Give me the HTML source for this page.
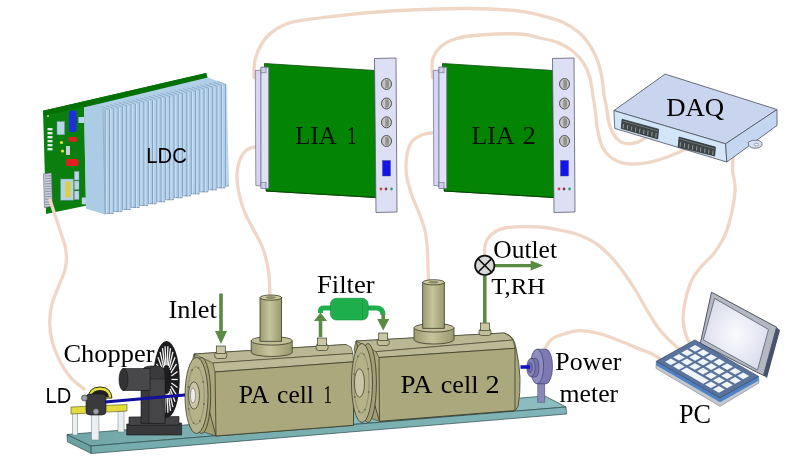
<!DOCTYPE html>
<html><head><meta charset="utf-8"><style>html,body{margin:0;padding:0;background:#fff;overflow:hidden}svg{display:block;filter:blur(0.35px)}</style></head>
<body><svg width="800" height="460" viewBox="0 0 800 460"><defs><linearGradient id="cyl" x1="0" x2="1" y1="0" y2="0"><stop offset="0" stop-color="#9e9c72"/><stop offset="0.45" stop-color="#c6c49c"/><stop offset="1" stop-color="#9a986e"/></linearGradient><radialGradient id="scr" cx="0.5" cy="0.5" r="0.6"><stop offset="0" stop-color="#fbfbff"/><stop offset="1" stop-color="#d6d9ea"/></radialGradient><linearGradient id="plateTop" gradientUnits="userSpaceOnUse" x1="67" y1="0" x2="566" y2="0"><stop offset="0" stop-color="#70a6a7"/><stop offset="0.55" stop-color="#88b9bc"/><stop offset="1" stop-color="#8cbcbf"/></linearGradient><linearGradient id="plateFront" gradientUnits="userSpaceOnUse" x1="91" y1="0" x2="566" y2="0"><stop offset="0" stop-color="#74abac"/><stop offset="1" stop-color="#80b4b8"/></linearGradient></defs><rect width="800" height="460" fill="#fff"/><path d="M254.0,77.5 C254.2,74.6 253.6,65.8 255.0,60.0 C256.4,54.2 259.2,47.5 262.5,42.5 C265.8,37.5 269.6,33.5 275.0,30.0 C280.4,26.5 283.3,24.0 295.0,21.5 C306.7,19.0 329.2,16.8 345.0,15.0 C360.8,13.2 370.0,12.1 390.0,11.0 C410.0,9.9 444.2,8.6 465.0,8.5 C485.8,8.4 502.5,9.4 515.0,10.5 C527.5,11.6 532.2,13.3 540.0,15.2 C547.8,17.1 555.2,18.8 561.7,21.7 C568.2,24.6 574.3,28.6 579.0,32.6 C583.7,36.6 586.9,41.0 590.0,45.7 C593.1,50.4 595.6,55.5 597.6,60.9 C599.6,66.3 600.9,72.6 602.0,78.3 C603.1,84.0 603.3,90.4 604.0,95.0 C604.7,99.6 605.4,101.0 606.2,105.7 C607.1,110.4 607.8,118.4 609.1,123.3 C610.4,128.2 612.0,131.9 614.0,135.0 C616.0,138.1 618.4,140.4 620.9,141.9 C623.4,143.4 625.8,143.8 628.7,143.8 C631.6,143.8 635.7,143.0 638.5,141.9 C641.3,140.8 644.4,138.2 645.6,137.4" fill="none" stroke="#f0d6c5" stroke-width="3.3" stroke-linecap="round" stroke-linejoin="round"/><path d="M432.5,77.5 C432.5,74.6 431.2,65.0 432.5,60.0 C433.8,55.0 436.2,51.0 440.0,47.5 C443.8,44.0 448.3,41.1 455.0,39.0 C461.7,36.9 469.2,35.8 480.0,35.0 C490.8,34.2 510.0,33.5 520.0,34.0 C530.0,34.5 533.8,36.6 540.0,38.0 C546.2,39.4 552.0,40.2 557.4,42.4 C562.8,44.6 568.2,47.6 572.6,51.0 C577.0,54.4 580.6,58.5 583.5,63.0 C586.4,67.5 588.4,72.5 590.0,78.3 C591.6,84.1 592.4,92.4 593.3,98.0 C594.2,103.6 594.7,106.8 595.4,112.0 C596.1,117.2 596.2,123.3 597.4,129.1 C598.5,134.9 600.0,142.1 602.3,146.8 C604.6,151.5 607.4,154.7 611.1,157.5 C614.9,160.3 619.6,162.4 624.8,163.4 C630.0,164.4 636.5,164.1 642.4,163.4 C648.3,162.8 654.5,161.1 660.0,159.5 C665.5,157.9 671.4,155.4 675.7,153.6 C680.0,151.8 684.3,149.5 686.0,148.7" fill="none" stroke="#f0d6c5" stroke-width="3.3" stroke-linecap="round" stroke-linejoin="round"/><path d="M255.4,146.6 C253.9,147.2 248.8,148.1 246.2,150.3 C243.6,152.5 241.4,155.6 239.9,159.6 C238.4,163.6 237.2,168.8 237.0,174.3 C236.8,179.8 237.6,186.6 238.8,192.8 C240.0,199.0 241.8,205.1 244.3,211.3 C246.8,217.5 250.5,223.6 253.6,229.8 C256.7,236.0 260.3,241.5 262.8,248.3 C265.3,255.1 267.2,262.4 268.4,270.4 C269.6,278.3 269.7,291.7 270.0,296.0" fill="none" stroke="#f0d6c5" stroke-width="3.3" stroke-linecap="round" stroke-linejoin="round"/><path d="M431.7,132.9 C429.9,133.3 424.0,133.9 420.6,135.5 C417.2,137.1 413.7,138.6 411.4,142.2 C409.1,145.8 407.4,151.5 406.6,157.0 C405.8,162.5 405.8,169.2 406.6,175.4 C407.4,181.6 409.4,187.7 411.4,193.9 C413.4,200.1 416.5,206.2 418.8,212.4 C421.1,218.6 423.7,224.8 425.1,230.9 C426.5,237.1 426.8,243.2 427.3,249.3 C427.8,255.5 427.8,262.4 428.0,267.8 C428.2,273.2 428.7,279.6 428.8,282.0" fill="none" stroke="#f0d6c5" stroke-width="3.3" stroke-linecap="round" stroke-linejoin="round"/><path d="M484.5,255.0 C484.7,253.1 484.4,246.8 485.5,243.5 C486.6,240.2 487.8,237.6 491.0,235.0 C494.2,232.4 496.8,229.3 505.0,228.0 C513.2,226.7 530.8,226.6 540.0,227.0 C549.2,227.4 553.6,228.9 560.0,230.2 C566.4,231.5 572.2,232.5 578.3,234.8 C584.4,237.1 590.9,240.1 596.5,243.9 C602.1,247.7 607.1,252.8 611.7,257.6 C616.3,262.4 619.9,267.2 623.9,272.8 C627.9,278.4 631.9,284.4 636.0,291.0 C640.1,297.6 644.2,305.8 648.3,312.4 C652.4,319.0 655.8,325.0 660.4,330.6 C665.0,336.2 671.3,342.3 675.6,345.9 C679.9,349.5 684.3,351.0 686.0,352.0" fill="none" stroke="#f0d6c5" stroke-width="3.3" stroke-linecap="round" stroke-linejoin="round"/><path d="M733.6,154.0 C733.4,156.7 732.3,163.7 732.5,170.0 C732.7,176.3 735.9,182.0 735.0,192.0 C734.1,202.0 730.3,220.0 727.0,230.0 C723.7,240.0 719.5,245.7 715.0,252.0 C710.5,258.3 704.0,263.0 700.0,268.0 C696.0,273.0 693.4,276.1 690.9,282.0 C688.4,287.9 686.1,296.7 684.8,303.3 C683.5,309.9 682.7,315.4 683.2,321.5 C683.7,327.6 685.8,335.4 687.8,339.8 C689.8,344.2 693.8,346.6 695.0,348.0" fill="none" stroke="#f0d6c5" stroke-width="3.3" stroke-linecap="round" stroke-linejoin="round"/><path d="M545.0,348.0 C546.2,346.5 548.8,341.3 552.0,339.0 C555.2,336.7 559.6,335.4 564.0,334.0 C568.4,332.6 572.4,330.7 578.3,330.6 C584.2,330.6 592.5,331.9 599.6,333.7 C606.7,335.5 614.3,338.8 620.9,341.3 C627.5,343.8 634.0,346.9 639.1,348.9 C644.2,350.9 647.5,351.6 651.3,353.5 C655.1,355.4 660.2,358.9 662.0,360.0" fill="none" stroke="#f0d6c5" stroke-width="3.3" stroke-linecap="round" stroke-linejoin="round"/><polygon points="43.0,110.8 206.2,73.0 207.8,78.0 210.0,180.0 46.0,214.0" fill="#0a7e0e" stroke="none" stroke-width="1" /><polygon points="43.0,110.8 206.2,73.0 206.5,78.0 44.0,116.0" fill="#037003" stroke="none" stroke-width="1" /><rect x="69" y="110.5" width="7.6" height="21.5" rx="2.5" fill="#1f2fd8"/><rect x="57" y="121.5" width="7.6" height="13.3" fill="#b8d4e8" stroke="#6a8aa0" stroke-width="0.5"/><rect x="68.4" y="137" width="8.8" height="4.7" rx="2" fill="#e02020"/><rect x="66" y="159" width="12.4" height="7" rx="1.5" fill="#e02020"/><circle cx="61.5" cy="142.5" r="1.6" fill="#e8e040"/><circle cx="62.5" cy="151" r="1.6" fill="#e8e040"/><rect x="66" y="146" width="4" height="9" fill="#c8d0d0"/><rect x="47.5" y="128.0" width="5" height="2.4" fill="#e0e8e8"/><rect x="47.5" y="132.0" width="5" height="2.4" fill="#e0e8e8"/><rect x="47.5" y="136.0" width="5" height="2.4" fill="#e0e8e8"/><rect x="47.5" y="140.0" width="5" height="2.4" fill="#e0e8e8"/><rect x="47.5" y="144.0" width="5" height="2.4" fill="#e0e8e8"/><rect x="47.5" y="148.0" width="5" height="2.4" fill="#e0e8e8"/><circle cx="48" cy="116" r="1" fill="#c0d0c0"/><rect x="60.6" y="179" width="13" height="21.2" fill="#b4d2e2" stroke="#6a8a9a" stroke-width="0.5"/><rect x="65.2" y="181.5" width="5.6" height="16" fill="#d8d048"/><rect x="74.3" y="171.5" width="4.7" height="8.5" fill="#bcd4e4" stroke="#7a9aaa" stroke-width="0.4"/><rect x="74.3" y="181" width="4.7" height="8.5" fill="#bcd4e4" stroke="#7a9aaa" stroke-width="0.4"/><rect x="74.3" y="191" width="4.7" height="8.5" fill="#bcd4e4" stroke="#7a9aaa" stroke-width="0.4"/><rect x="81.8" y="197.5" width="4.2" height="6.8" fill="#bcd4e4"/><rect x="78.5" y="117" width="5.5" height="6" fill="#b8d4e8"/><polygon points="43.5,174.0 51.5,172.8 52.4,206.0 44.5,207.7" fill="#c4ccd8" stroke="#606070" stroke-width="0.6" /><line x1="45" y1="176.0" x2="51" y2="175.7" stroke="#7a8290" stroke-width="0.7"/><line x1="45" y1="178.6" x2="51" y2="178.3" stroke="#7a8290" stroke-width="0.7"/><line x1="45" y1="181.2" x2="51" y2="180.9" stroke="#7a8290" stroke-width="0.7"/><line x1="45" y1="183.8" x2="51" y2="183.5" stroke="#7a8290" stroke-width="0.7"/><line x1="45" y1="186.4" x2="51" y2="186.1" stroke="#7a8290" stroke-width="0.7"/><line x1="45" y1="189.0" x2="51" y2="188.7" stroke="#7a8290" stroke-width="0.7"/><line x1="45" y1="191.6" x2="51" y2="191.3" stroke="#7a8290" stroke-width="0.7"/><line x1="45" y1="194.2" x2="51" y2="193.9" stroke="#7a8290" stroke-width="0.7"/><line x1="45" y1="196.8" x2="51" y2="196.5" stroke="#7a8290" stroke-width="0.7"/><line x1="45" y1="199.4" x2="51" y2="199.1" stroke="#7a8290" stroke-width="0.7"/><line x1="45" y1="202.0" x2="51" y2="201.7" stroke="#7a8290" stroke-width="0.7"/><line x1="45" y1="204.6" x2="51" y2="204.3" stroke="#7a8290" stroke-width="0.7"/><polygon points="84.0,107.5 207.8,77.5 226.4,84.3 229.0,185.5 229.0,186.4 225.4,186.4 225.4,188.3 216.8,188.3 216.8,190.3 208.2,190.3 208.2,192.3 199.6,192.3 199.6,194.3 191.0,194.3 191.0,196.3 182.4,196.3 182.4,198.2 173.8,198.2 173.8,200.2 165.2,200.2 165.2,202.2 156.6,202.2 156.6,204.2 148.0,204.2 148.0,206.1 139.4,206.1 139.4,208.1 130.8,208.1 130.8,210.1 122.2,210.1 122.2,212.1 113.6,212.1 113.6,214.0 105.0,214.0 86.0,208.5" fill="#b2cfe9" stroke="none" stroke-width="1" /><line x1="105.0" y1="213.4" x2="113.6" y2="213.4" stroke="#8a9cb0" stroke-width="1"/><line x1="113.6" y1="211.5" x2="122.2" y2="211.5" stroke="#8a9cb0" stroke-width="1"/><line x1="122.2" y1="209.5" x2="130.8" y2="209.5" stroke="#8a9cb0" stroke-width="1"/><line x1="130.8" y1="207.5" x2="139.4" y2="207.5" stroke="#8a9cb0" stroke-width="1"/><line x1="139.4" y1="205.5" x2="148.0" y2="205.5" stroke="#8a9cb0" stroke-width="1"/><line x1="148.0" y1="203.6" x2="156.6" y2="203.6" stroke="#8a9cb0" stroke-width="1"/><line x1="156.6" y1="201.6" x2="165.2" y2="201.6" stroke="#8a9cb0" stroke-width="1"/><line x1="165.2" y1="199.6" x2="173.8" y2="199.6" stroke="#8a9cb0" stroke-width="1"/><line x1="173.8" y1="197.6" x2="182.4" y2="197.6" stroke="#8a9cb0" stroke-width="1"/><line x1="182.4" y1="195.7" x2="191.0" y2="195.7" stroke="#8a9cb0" stroke-width="1"/><line x1="191.0" y1="193.7" x2="199.6" y2="193.7" stroke="#8a9cb0" stroke-width="1"/><line x1="199.6" y1="191.7" x2="208.2" y2="191.7" stroke="#8a9cb0" stroke-width="1"/><line x1="208.2" y1="189.7" x2="216.8" y2="189.7" stroke="#8a9cb0" stroke-width="1"/><line x1="216.8" y1="187.7" x2="225.4" y2="187.7" stroke="#8a9cb0" stroke-width="1"/><line x1="225.4" y1="185.8" x2="229.0" y2="185.8" stroke="#8a9cb0" stroke-width="1"/><line x1="105.2" y1="110.5" x2="105.2" y2="214.0" stroke="#7d9cbc" stroke-width="0.9"/><line x1="106.5" y1="110.5" x2="106.5" y2="213.7" stroke="#d2e4f5" stroke-width="0.8"/><line x1="97.2" y1="107.3" x2="105.2" y2="110.5" stroke="#7f9cbc" stroke-width="0.7"/><line x1="109.5" y1="109.6" x2="109.5" y2="214.0" stroke="#7d9cbc" stroke-width="0.9"/><line x1="110.8" y1="109.6" x2="110.8" y2="213.7" stroke="#d2e4f5" stroke-width="0.8"/><line x1="101.5" y1="106.4" x2="109.5" y2="109.6" stroke="#7f9cbc" stroke-width="0.7"/><line x1="113.8" y1="108.7" x2="113.8" y2="212.1" stroke="#7d9cbc" stroke-width="0.9"/><line x1="115.1" y1="108.7" x2="115.1" y2="211.8" stroke="#d2e4f5" stroke-width="0.8"/><line x1="105.8" y1="105.5" x2="113.8" y2="108.7" stroke="#7f9cbc" stroke-width="0.7"/><line x1="118.1" y1="107.7" x2="118.1" y2="212.1" stroke="#7d9cbc" stroke-width="0.9"/><line x1="119.4" y1="107.7" x2="119.4" y2="211.8" stroke="#d2e4f5" stroke-width="0.8"/><line x1="110.1" y1="104.5" x2="118.1" y2="107.7" stroke="#7f9cbc" stroke-width="0.7"/><line x1="122.4" y1="106.8" x2="122.4" y2="210.1" stroke="#7d9cbc" stroke-width="0.9"/><line x1="123.7" y1="106.8" x2="123.7" y2="209.8" stroke="#d2e4f5" stroke-width="0.8"/><line x1="114.4" y1="103.6" x2="122.4" y2="106.8" stroke="#7f9cbc" stroke-width="0.7"/><line x1="126.7" y1="105.9" x2="126.7" y2="210.1" stroke="#7d9cbc" stroke-width="0.9"/><line x1="128.0" y1="105.9" x2="128.0" y2="209.8" stroke="#d2e4f5" stroke-width="0.8"/><line x1="118.7" y1="102.7" x2="126.7" y2="105.9" stroke="#7f9cbc" stroke-width="0.7"/><line x1="131.0" y1="104.9" x2="131.0" y2="208.1" stroke="#7d9cbc" stroke-width="0.9"/><line x1="132.3" y1="104.9" x2="132.3" y2="207.8" stroke="#d2e4f5" stroke-width="0.8"/><line x1="123.0" y1="101.7" x2="131.0" y2="104.9" stroke="#7f9cbc" stroke-width="0.7"/><line x1="135.3" y1="104.0" x2="135.3" y2="208.1" stroke="#7d9cbc" stroke-width="0.9"/><line x1="136.6" y1="104.0" x2="136.6" y2="207.8" stroke="#d2e4f5" stroke-width="0.8"/><line x1="127.3" y1="100.8" x2="135.3" y2="104.0" stroke="#7f9cbc" stroke-width="0.7"/><line x1="139.6" y1="103.1" x2="139.6" y2="206.1" stroke="#7d9cbc" stroke-width="0.9"/><line x1="140.9" y1="103.1" x2="140.9" y2="205.8" stroke="#d2e4f5" stroke-width="0.8"/><line x1="131.6" y1="99.9" x2="139.6" y2="103.1" stroke="#7f9cbc" stroke-width="0.7"/><line x1="143.9" y1="102.2" x2="143.9" y2="206.1" stroke="#7d9cbc" stroke-width="0.9"/><line x1="145.2" y1="102.2" x2="145.2" y2="205.8" stroke="#d2e4f5" stroke-width="0.8"/><line x1="135.9" y1="99.0" x2="143.9" y2="102.2" stroke="#7f9cbc" stroke-width="0.7"/><line x1="148.2" y1="101.2" x2="148.2" y2="204.2" stroke="#7d9cbc" stroke-width="0.9"/><line x1="149.5" y1="101.2" x2="149.5" y2="203.9" stroke="#d2e4f5" stroke-width="0.8"/><line x1="140.2" y1="98.0" x2="148.2" y2="101.2" stroke="#7f9cbc" stroke-width="0.7"/><line x1="152.5" y1="100.3" x2="152.5" y2="204.2" stroke="#7d9cbc" stroke-width="0.9"/><line x1="153.8" y1="100.3" x2="153.8" y2="203.9" stroke="#d2e4f5" stroke-width="0.8"/><line x1="144.5" y1="97.1" x2="152.5" y2="100.3" stroke="#7f9cbc" stroke-width="0.7"/><line x1="156.8" y1="99.4" x2="156.8" y2="202.2" stroke="#7d9cbc" stroke-width="0.9"/><line x1="158.1" y1="99.4" x2="158.1" y2="201.9" stroke="#d2e4f5" stroke-width="0.8"/><line x1="148.8" y1="96.2" x2="156.8" y2="99.4" stroke="#7f9cbc" stroke-width="0.7"/><line x1="161.1" y1="98.4" x2="161.1" y2="202.2" stroke="#7d9cbc" stroke-width="0.9"/><line x1="162.4" y1="98.4" x2="162.4" y2="201.9" stroke="#d2e4f5" stroke-width="0.8"/><line x1="153.1" y1="95.2" x2="161.1" y2="98.4" stroke="#7f9cbc" stroke-width="0.7"/><line x1="165.4" y1="97.5" x2="165.4" y2="200.2" stroke="#7d9cbc" stroke-width="0.9"/><line x1="166.7" y1="97.5" x2="166.7" y2="199.9" stroke="#d2e4f5" stroke-width="0.8"/><line x1="157.4" y1="94.3" x2="165.4" y2="97.5" stroke="#7f9cbc" stroke-width="0.7"/><line x1="169.7" y1="96.6" x2="169.7" y2="200.2" stroke="#7d9cbc" stroke-width="0.9"/><line x1="171.0" y1="96.6" x2="171.0" y2="199.9" stroke="#d2e4f5" stroke-width="0.8"/><line x1="161.7" y1="93.4" x2="169.7" y2="96.6" stroke="#7f9cbc" stroke-width="0.7"/><line x1="174.0" y1="95.6" x2="174.0" y2="198.2" stroke="#7d9cbc" stroke-width="0.9"/><line x1="175.3" y1="95.6" x2="175.3" y2="197.9" stroke="#d2e4f5" stroke-width="0.8"/><line x1="166.0" y1="92.4" x2="174.0" y2="95.6" stroke="#7f9cbc" stroke-width="0.7"/><line x1="178.3" y1="94.7" x2="178.3" y2="198.2" stroke="#7d9cbc" stroke-width="0.9"/><line x1="179.6" y1="94.7" x2="179.6" y2="197.9" stroke="#d2e4f5" stroke-width="0.8"/><line x1="170.3" y1="91.5" x2="178.3" y2="94.7" stroke="#7f9cbc" stroke-width="0.7"/><line x1="182.6" y1="93.8" x2="182.6" y2="196.3" stroke="#7d9cbc" stroke-width="0.9"/><line x1="183.9" y1="93.8" x2="183.9" y2="196.0" stroke="#d2e4f5" stroke-width="0.8"/><line x1="174.6" y1="90.6" x2="182.6" y2="93.8" stroke="#7f9cbc" stroke-width="0.7"/><line x1="186.9" y1="92.8" x2="186.9" y2="196.3" stroke="#7d9cbc" stroke-width="0.9"/><line x1="188.2" y1="92.8" x2="188.2" y2="196.0" stroke="#d2e4f5" stroke-width="0.8"/><line x1="178.9" y1="89.6" x2="186.9" y2="92.8" stroke="#7f9cbc" stroke-width="0.7"/><line x1="191.2" y1="91.9" x2="191.2" y2="194.3" stroke="#7d9cbc" stroke-width="0.9"/><line x1="192.5" y1="91.9" x2="192.5" y2="194.0" stroke="#d2e4f5" stroke-width="0.8"/><line x1="183.2" y1="88.7" x2="191.2" y2="91.9" stroke="#7f9cbc" stroke-width="0.7"/><line x1="195.5" y1="91.0" x2="195.5" y2="194.3" stroke="#7d9cbc" stroke-width="0.9"/><line x1="196.8" y1="91.0" x2="196.8" y2="194.0" stroke="#d2e4f5" stroke-width="0.8"/><line x1="187.5" y1="87.8" x2="195.5" y2="91.0" stroke="#7f9cbc" stroke-width="0.7"/><line x1="199.8" y1="90.1" x2="199.8" y2="192.3" stroke="#7d9cbc" stroke-width="0.9"/><line x1="201.1" y1="90.1" x2="201.1" y2="192.0" stroke="#d2e4f5" stroke-width="0.8"/><line x1="191.8" y1="86.9" x2="199.8" y2="90.1" stroke="#7f9cbc" stroke-width="0.7"/><line x1="204.1" y1="89.1" x2="204.1" y2="192.3" stroke="#7d9cbc" stroke-width="0.9"/><line x1="205.4" y1="89.1" x2="205.4" y2="192.0" stroke="#d2e4f5" stroke-width="0.8"/><line x1="196.1" y1="85.9" x2="204.1" y2="89.1" stroke="#7f9cbc" stroke-width="0.7"/><line x1="208.4" y1="88.2" x2="208.4" y2="190.3" stroke="#7d9cbc" stroke-width="0.9"/><line x1="209.7" y1="88.2" x2="209.7" y2="190.0" stroke="#d2e4f5" stroke-width="0.8"/><line x1="200.4" y1="85.0" x2="208.4" y2="88.2" stroke="#7f9cbc" stroke-width="0.7"/><line x1="212.7" y1="87.3" x2="212.7" y2="190.3" stroke="#7d9cbc" stroke-width="0.9"/><line x1="214.0" y1="87.3" x2="214.0" y2="190.0" stroke="#d2e4f5" stroke-width="0.8"/><line x1="204.7" y1="84.1" x2="212.7" y2="87.3" stroke="#7f9cbc" stroke-width="0.7"/><line x1="217.0" y1="86.3" x2="217.0" y2="188.3" stroke="#7d9cbc" stroke-width="0.9"/><line x1="218.3" y1="86.3" x2="218.3" y2="188.0" stroke="#d2e4f5" stroke-width="0.8"/><line x1="209.0" y1="83.1" x2="217.0" y2="86.3" stroke="#7f9cbc" stroke-width="0.7"/><line x1="221.3" y1="85.4" x2="221.3" y2="188.3" stroke="#7d9cbc" stroke-width="0.9"/><line x1="222.6" y1="85.4" x2="222.6" y2="188.0" stroke="#d2e4f5" stroke-width="0.8"/><line x1="213.3" y1="82.2" x2="221.3" y2="85.4" stroke="#7f9cbc" stroke-width="0.7"/><line x1="225.6" y1="84.5" x2="225.6" y2="186.4" stroke="#7d9cbc" stroke-width="0.9"/><line x1="226.9" y1="84.5" x2="226.9" y2="186.1" stroke="#d2e4f5" stroke-width="0.8"/><line x1="217.6" y1="81.3" x2="225.6" y2="84.5" stroke="#7f9cbc" stroke-width="0.7"/><polygon points="84.0,107.5 100.0,104.0 103.0,111.0 105.0,214.5 86.0,208.5" fill="#abcce4" stroke="none" stroke-width="1" /><line x1="103" y1="111" x2="105" y2="214.5" stroke="#8ea8c4" stroke-width="0.8"/><path d="M50.0,200.0 C50.7,202.1 52.5,207.6 54.2,212.8 C55.9,218.0 58.3,224.9 60.2,231.0 C62.1,237.1 64.8,243.3 65.7,249.4 C66.6,255.5 66.7,261.5 65.5,267.6 C64.3,273.7 61.0,279.8 58.8,285.9 C56.5,292.0 53.5,297.9 52.0,304.0 C50.5,310.1 49.7,316.3 49.7,322.4 C49.7,328.5 50.5,334.6 52.0,340.7 C53.5,346.8 55.8,352.9 58.8,359.0 C61.8,365.1 66.0,372.0 70.2,377.0 C74.4,382.0 81.7,387.0 84.0,389.0" fill="none" stroke="#f0d6c5" stroke-width="3.3" stroke-linecap="round" stroke-linejoin="round"/><polygon points="264.5,63.5 375.0,70.5 376.0,197.5 266.0,191.0" fill="#038503" stroke="#0b4a0b" stroke-width="0.8" /><line x1="266" y1="191" x2="376" y2="197.5" stroke="#024a02" stroke-width="1"/><polygon points="255.3,70.5 261.0,70.0 261.0,186.0 255.8,185.5" fill="#d6d6f2" stroke="#6a6a90" stroke-width="0.7" /><polygon points="261.0,67.2 268.7,67.2 268.7,188.5 261.0,188.0" fill="#e2e2f6" stroke="#6a6a90" stroke-width="0.7" /><rect x="261" y="67.2" width="5" height="5.6" fill="#cfcfe4" stroke="#6a6a90" stroke-width="0.6"/><rect x="261" y="182.5" width="5" height="6" fill="#cfcfe4" stroke="#6a6a90" stroke-width="0.6"/><polygon points="374.5,58.5 396.0,58.0 397.0,212.0 376.0,212.5" fill="#dde0f4" stroke="#5a5a70" stroke-width="0.8" /><ellipse cx="386.5" cy="84" rx="5" ry="5.5" fill="#c4c4c4" stroke="#444" stroke-width="0.9"/><path d="M386.5,79.2 A5,5.5 0 0 1 386.5,88.8 Z" fill="#9a9a9a"/><line x1="386" y1="80" x2="386" y2="88" stroke="#555" stroke-width="0.6"/><line x1="388" y1="80" x2="388" y2="88" stroke="#666" stroke-width="0.5"/><ellipse cx="386.5" cy="103.5" rx="5" ry="5.5" fill="#c4c4c4" stroke="#444" stroke-width="0.9"/><path d="M386.5,98.7 A5,5.5 0 0 1 386.5,108.3 Z" fill="#9a9a9a"/><line x1="386" y1="99.5" x2="386" y2="107.5" stroke="#555" stroke-width="0.6"/><line x1="388" y1="99.5" x2="388" y2="107.5" stroke="#666" stroke-width="0.5"/><ellipse cx="386.5" cy="122.3" rx="5" ry="5.5" fill="#c4c4c4" stroke="#444" stroke-width="0.9"/><path d="M386.5,117.5 A5,5.5 0 0 1 386.5,127.1 Z" fill="#9a9a9a"/><line x1="386" y1="118.3" x2="386" y2="126.3" stroke="#555" stroke-width="0.6"/><line x1="388" y1="118.3" x2="388" y2="126.3" stroke="#666" stroke-width="0.5"/><ellipse cx="386.5" cy="141" rx="5" ry="5.5" fill="#c4c4c4" stroke="#444" stroke-width="0.9"/><path d="M386.5,136.2 A5,5.5 0 0 1 386.5,145.8 Z" fill="#9a9a9a"/><line x1="386" y1="137" x2="386" y2="145" stroke="#555" stroke-width="0.6"/><line x1="388" y1="137" x2="388" y2="145" stroke="#666" stroke-width="0.5"/><rect x="382.5" y="160.5" width="8" height="15.5" fill="#1414e8" stroke="#404080" stroke-width="0.4"/><circle cx="381" cy="189" r="1.4" fill="#c84848"/><circle cx="386" cy="189" r="1.4" fill="#883848"/><circle cx="391.5" cy="189" r="1.4" fill="#38a070"/><polygon points="442.5,63.5 553.0,70.5 554.0,197.5 444.0,191.0" fill="#038503" stroke="#0b4a0b" stroke-width="0.8" /><line x1="444" y1="191" x2="554" y2="197.5" stroke="#024a02" stroke-width="1"/><polygon points="433.3,70.5 439.0,70.0 439.0,186.0 433.8,185.5" fill="#d6d6f2" stroke="#6a6a90" stroke-width="0.7" /><polygon points="439.0,67.2 446.7,67.2 446.7,188.5 439.0,188.0" fill="#e2e2f6" stroke="#6a6a90" stroke-width="0.7" /><rect x="439" y="67.2" width="5" height="5.6" fill="#cfcfe4" stroke="#6a6a90" stroke-width="0.6"/><rect x="439" y="182.5" width="5" height="6" fill="#cfcfe4" stroke="#6a6a90" stroke-width="0.6"/><polygon points="552.5,58.5 574.0,58.0 575.0,212.0 554.0,212.5" fill="#dde0f4" stroke="#5a5a70" stroke-width="0.8" /><ellipse cx="564.5" cy="84" rx="5" ry="5.5" fill="#c4c4c4" stroke="#444" stroke-width="0.9"/><path d="M564.5,79.2 A5,5.5 0 0 1 564.5,88.8 Z" fill="#9a9a9a"/><line x1="564" y1="80" x2="564" y2="88" stroke="#555" stroke-width="0.6"/><line x1="566" y1="80" x2="566" y2="88" stroke="#666" stroke-width="0.5"/><ellipse cx="564.5" cy="103.5" rx="5" ry="5.5" fill="#c4c4c4" stroke="#444" stroke-width="0.9"/><path d="M564.5,98.7 A5,5.5 0 0 1 564.5,108.3 Z" fill="#9a9a9a"/><line x1="564" y1="99.5" x2="564" y2="107.5" stroke="#555" stroke-width="0.6"/><line x1="566" y1="99.5" x2="566" y2="107.5" stroke="#666" stroke-width="0.5"/><ellipse cx="564.5" cy="122.3" rx="5" ry="5.5" fill="#c4c4c4" stroke="#444" stroke-width="0.9"/><path d="M564.5,117.5 A5,5.5 0 0 1 564.5,127.1 Z" fill="#9a9a9a"/><line x1="564" y1="118.3" x2="564" y2="126.3" stroke="#555" stroke-width="0.6"/><line x1="566" y1="118.3" x2="566" y2="126.3" stroke="#666" stroke-width="0.5"/><ellipse cx="564.5" cy="141" rx="5" ry="5.5" fill="#c4c4c4" stroke="#444" stroke-width="0.9"/><path d="M564.5,136.2 A5,5.5 0 0 1 564.5,145.8 Z" fill="#9a9a9a"/><line x1="564" y1="137" x2="564" y2="145" stroke="#555" stroke-width="0.6"/><line x1="566" y1="137" x2="566" y2="145" stroke="#666" stroke-width="0.5"/><rect x="560.5" y="160.5" width="8" height="15.5" fill="#1414e8" stroke="#404080" stroke-width="0.4"/><circle cx="559" cy="189" r="1.4" fill="#c84848"/><circle cx="564" cy="189" r="1.4" fill="#883848"/><circle cx="569.5" cy="189" r="1.4" fill="#38a070"/><polygon points="613.9,110.6 665.1,74.1 777.0,109.5 725.6,143.8" fill="#c9d4ee" stroke="#4a4f5c" stroke-width="0.8" /><polygon points="613.9,110.6 725.6,143.8 726.8,162.0 614.7,128.4" fill="#d3e5f9" stroke="#4a4f5c" stroke-width="0.8" /><polygon points="725.6,143.8 777.0,109.5 777.0,125.5 726.8,162.0" fill="#c4d6f0" stroke="#4a4f5c" stroke-width="0.8" /><polygon points="622.0,119.2 658.6,129.2 657.8,139.0 621.2,128.4" fill="#3d4546" stroke="#1e2222" stroke-width="0.6" /><line x1="623.7" y1="123.9" x2="623.2" y2="128.2" stroke="#8a9494" stroke-width="1.1"/><line x1="627.7" y1="125.1" x2="627.3" y2="129.4" stroke="#8a9494" stroke-width="1.1"/><line x1="631.8" y1="126.2" x2="631.4" y2="130.5" stroke="#8a9494" stroke-width="1.1"/><line x1="635.9" y1="127.3" x2="635.4" y2="131.7" stroke="#8a9494" stroke-width="1.1"/><line x1="639.9" y1="128.5" x2="639.5" y2="132.9" stroke="#8a9494" stroke-width="1.1"/><line x1="644.0" y1="129.6" x2="643.6" y2="134.1" stroke="#8a9494" stroke-width="1.1"/><line x1="648.1" y1="130.8" x2="647.6" y2="135.3" stroke="#8a9494" stroke-width="1.1"/><line x1="652.1" y1="131.9" x2="651.7" y2="136.4" stroke="#8a9494" stroke-width="1.1"/><line x1="656.2" y1="133.0" x2="655.8" y2="137.6" stroke="#8a9494" stroke-width="1.1"/><line x1="622.5" y1="121.0" x2="658.1" y2="131.0" stroke="#6a7474" stroke-width="1"/><polygon points="679.0,137.0 715.5,147.1 714.7,156.0 678.1,147.1" fill="#3d4546" stroke="#1e2222" stroke-width="0.6" /><line x1="680.6" y1="142.1" x2="680.1" y2="146.8" stroke="#8a9494" stroke-width="1.1"/><line x1="684.7" y1="143.1" x2="684.2" y2="147.8" stroke="#8a9494" stroke-width="1.1"/><line x1="688.7" y1="144.2" x2="688.3" y2="148.8" stroke="#8a9494" stroke-width="1.1"/><line x1="692.8" y1="145.3" x2="692.3" y2="149.8" stroke="#8a9494" stroke-width="1.1"/><line x1="696.9" y1="146.3" x2="696.4" y2="150.8" stroke="#8a9494" stroke-width="1.1"/><line x1="700.9" y1="147.4" x2="700.5" y2="151.7" stroke="#8a9494" stroke-width="1.1"/><line x1="705.0" y1="148.4" x2="704.5" y2="152.7" stroke="#8a9494" stroke-width="1.1"/><line x1="709.0" y1="149.5" x2="708.6" y2="153.7" stroke="#8a9494" stroke-width="1.1"/><line x1="713.1" y1="150.6" x2="712.7" y2="154.7" stroke="#8a9494" stroke-width="1.1"/><line x1="679.5" y1="138.8" x2="715.0" y2="148.9" stroke="#6a7474" stroke-width="1"/><path d="M748.4,142 Q752,139.5 758,140.3 Q763,141.5 762,145.5 Q760,148.5 754,148.3 Q749,147.5 748.4,144 Z" fill="#d6e2f4" stroke="#4a4f5c" stroke-width="0.7"/><ellipse cx="756.4" cy="144.6" rx="2.3" ry="1.3" fill="#fff" stroke="#4a4f5c" stroke-width="0.5"/><polygon points="67.0,434.5 91.0,446.0 91.3,453.5 67.4,441.7" fill="#6aa2a3" stroke="#2c4a4a" stroke-width="0.7" /><polygon points="67.0,434.5 545.0,396.0 566.0,407.0 91.0,446.0" fill="url(#plateTop)" stroke="#2c4a4a" stroke-width="0.7" /><polygon points="91.0,446.0 566.0,407.0 566.5,414.0 91.3,453.5" fill="url(#plateFront)" stroke="#2c4a4a" stroke-width="0.7" /><rect x="72.5" y="411" width="5" height="24" fill="#eceff1" stroke="#707878" stroke-width="0.5"/><rect x="91.45" y="411" width="7.5" height="29" fill="#eceff1" stroke="#707878" stroke-width="0.5"/><rect x="118.0" y="411" width="6" height="21" fill="#eceff1" stroke="#707878" stroke-width="0.5"/><polygon points="71.0,407.0 127.0,404.5 127.0,411.0 71.0,414.0" fill="#e4dc3c" stroke="#505020" stroke-width="0.6" /><path d="M88,398 Q89,387 100,387 Q111,387 112,398 Z" fill="#e8e040" stroke="#303010" stroke-width="1"/><path d="M91,397 Q92,390 100,390 Q108,390 109,397 Z" fill="#202020"/><rect x="86" y="394" width="20" height="21" rx="4" fill="#3a3a3c" stroke="#1a1a1a" stroke-width="0.6"/><circle cx="84.5" cy="398" r="3" fill="#9aa0a4" stroke="#333" stroke-width="0.6"/><circle cx="96" cy="411.5" r="3" fill="#9aa0a4" stroke="#333" stroke-width="0.6"/><polygon points="126.7,424.0 181.6,423.0 181.6,435.0 126.7,435.0" fill="#38383a" stroke="#111" stroke-width="0.6" /><polygon points="129.0,417.0 179.0,416.5 179.0,425.0 129.0,425.5" fill="#444446" stroke="#111" stroke-width="0.6" /><ellipse cx="166.5" cy="379.5" rx="13.2" ry="38.5" fill="#1c1c1e"/><line x1="171.5" y1="379.5" x2="177.8" y2="379.5" stroke="#f2f2f2" stroke-width="1.3"/><line x1="171.4" y1="383.0" x2="177.5" y2="387.5" stroke="#f2f2f2" stroke-width="1.3"/><line x1="170.9" y1="386.2" x2="176.5" y2="395.1" stroke="#f2f2f2" stroke-width="1.3"/><line x1="170.2" y1="389.1" x2="175.0" y2="401.7" stroke="#f2f2f2" stroke-width="1.3"/><line x1="169.3" y1="391.4" x2="172.9" y2="407.1" stroke="#f2f2f2" stroke-width="1.3"/><line x1="168.3" y1="393.1" x2="170.5" y2="410.8" stroke="#f2f2f2" stroke-width="1.3"/><line x1="167.1" y1="393.9" x2="167.9" y2="412.8" stroke="#f2f2f2" stroke-width="1.3"/><line x1="165.9" y1="393.9" x2="165.1" y2="412.8" stroke="#f2f2f2" stroke-width="1.3"/><line x1="164.7" y1="393.1" x2="162.5" y2="410.8" stroke="#f2f2f2" stroke-width="1.3"/><line x1="163.7" y1="391.4" x2="160.1" y2="407.1" stroke="#f2f2f2" stroke-width="1.3"/><line x1="162.8" y1="389.1" x2="158.0" y2="401.7" stroke="#f2f2f2" stroke-width="1.3"/><line x1="162.1" y1="386.2" x2="156.5" y2="395.1" stroke="#f2f2f2" stroke-width="1.3"/><line x1="161.6" y1="383.0" x2="155.5" y2="387.5" stroke="#f2f2f2" stroke-width="1.3"/><line x1="161.5" y1="379.5" x2="155.2" y2="379.5" stroke="#f2f2f2" stroke-width="1.3"/><line x1="161.6" y1="376.0" x2="155.5" y2="371.5" stroke="#f2f2f2" stroke-width="1.3"/><line x1="162.1" y1="372.8" x2="156.5" y2="363.9" stroke="#f2f2f2" stroke-width="1.3"/><line x1="162.8" y1="369.9" x2="158.0" y2="357.3" stroke="#f2f2f2" stroke-width="1.3"/><line x1="163.7" y1="367.6" x2="160.1" y2="351.9" stroke="#f2f2f2" stroke-width="1.3"/><line x1="164.7" y1="365.9" x2="162.5" y2="348.2" stroke="#f2f2f2" stroke-width="1.3"/><line x1="165.9" y1="365.1" x2="165.1" y2="346.2" stroke="#f2f2f2" stroke-width="1.3"/><line x1="167.1" y1="365.1" x2="167.9" y2="346.2" stroke="#f2f2f2" stroke-width="1.3"/><line x1="168.3" y1="365.9" x2="170.5" y2="348.2" stroke="#f2f2f2" stroke-width="1.3"/><line x1="169.3" y1="367.6" x2="172.9" y2="351.9" stroke="#f2f2f2" stroke-width="1.3"/><line x1="170.2" y1="369.9" x2="175.0" y2="357.3" stroke="#f2f2f2" stroke-width="1.3"/><line x1="170.9" y1="372.8" x2="176.5" y2="363.9" stroke="#f2f2f2" stroke-width="1.3"/><line x1="171.4" y1="376.0" x2="177.5" y2="371.5" stroke="#f2f2f2" stroke-width="1.3"/><path d="M141,373 Q142,366 151,366 L157,366 Q165,366.5 165,374 L165,423.4 L141,423.4 Z" fill="#3a3a3c" stroke="#141414" stroke-width="0.6"/><path d="M149,379 L165,379 L165,423.4 L149,423.4 Z" fill="#454547" stroke="#1a1a1a" stroke-width="0.5"/><rect x="123" y="368.5" width="27" height="22" fill="#48484a" stroke="#141414" stroke-width="0.6"/><ellipse cx="123.5" cy="379.5" rx="4.5" ry="11" fill="#333335" stroke="#141414" stroke-width="0.6"/><line x1="105" y1="402" x2="196" y2="394" stroke="#1010a0" stroke-width="3"/><polygon points="194.0,354.0 213.0,363.0 215.0,372.0 216.0,436.0 204.0,432.0 192.0,362.0" fill="#a09e72" stroke="#3a3a28" stroke-width="0.6" /><polygon points="194.0,354.0 346.0,344.5 350.0,348.5 353.5,361.8 353.5,425.3 216.0,436.0" fill="#aaa87c" stroke="#3a3a28" stroke-width="0.8" /><polygon points="194.0,354.0 346.0,344.5 351.0,347.0 353.0,353.4 213.0,363.0" fill="#b9b794" stroke="#3a3a28" stroke-width="0.6" /><polygon points="213.0,363.0 353.0,353.4 353.5,361.8 215.0,372.0" fill="#bbb996" stroke="#3a3a28" stroke-width="0.6" /><polygon points="215.0,372.0 353.5,361.8 353.5,425.3 216.0,436.0" fill="#aaa87c" stroke="#3a3a28" stroke-width="0.8" /><ellipse cx="201.5" cy="395.5" rx="9.200000000000001" ry="38" fill="#a2a075" stroke="#3a3a28" stroke-width="0.8"/><ellipse cx="196.5" cy="395.5" rx="11.5" ry="38" fill="#b4b289" stroke="#3a3a28" stroke-width="0.8"/><ellipse cx="196.0" cy="395.5" rx="8.28" ry="28.88" fill="none" stroke="#6a6850" stroke-width="0.5"/><circle cx="203.9" cy="404.0" r="0.9" fill="#6a6850"/><circle cx="199.9" cy="421.0" r="0.9" fill="#6a6850"/><circle cx="193.6" cy="423.1" r="0.9" fill="#6a6850"/><circle cx="188.7" cy="409.0" r="0.9" fill="#6a6850"/><circle cx="188.1" cy="387.0" r="0.9" fill="#6a6850"/><circle cx="192.1" cy="370.0" r="0.9" fill="#6a6850"/><circle cx="198.4" cy="367.9" r="0.9" fill="#6a6850"/><circle cx="203.3" cy="382.0" r="0.9" fill="#6a6850"/><ellipse cx="194.0" cy="395.5" rx="5.52" ry="13.68" fill="#c8c6a4" stroke="#3a3a28" stroke-width="0.7"/><ellipse cx="193" cy="395.5" rx="2.6" ry="7.5" fill="#ecece4" stroke="#555" stroke-width="0.5"/><polygon points="356.0,341.0 376.0,351.7 379.0,357.5 379.5,421.3 367.5,417.3 354.0,349.0" fill="#a09e72" stroke="#3a3a28" stroke-width="0.6" /><path d="M356,341 L504,333 Q514,335 516,348 Q523,379.4 518,406.5 L515,410.5 L379.5,421.3 Z" fill="#aaa87c" stroke="#3a3a28" stroke-width="0.8"/><polygon points="356.0,341.0 504.0,333.0 509.0,335.5 513.0,340.0 376.0,351.7" fill="#b9b794" stroke="#3a3a28" stroke-width="0.6" /><polygon points="376.0,351.7 513.0,340.0 515.0,348.3 379.0,357.5" fill="#bbb996" stroke="#3a3a28" stroke-width="0.6" /><polygon points="379.0,357.5 515.0,348.3 515.0,410.5 379.5,421.3" fill="#aaa87c" stroke="#3a3a28" stroke-width="0.8" /><ellipse cx="368" cy="383" rx="8.4" ry="39.5" fill="#a2a075" stroke="#3a3a28" stroke-width="0.8"/><ellipse cx="362" cy="383" rx="10.5" ry="39.5" fill="#b4b289" stroke="#3a3a28" stroke-width="0.8"/><ellipse cx="361.5" cy="383" rx="7.56" ry="30.02" fill="none" stroke="#6a6850" stroke-width="0.5"/><circle cx="368.7" cy="391.9" r="0.9" fill="#6a6850"/><circle cx="365.0" cy="409.6" r="0.9" fill="#6a6850"/><circle cx="359.3" cy="411.7" r="0.9" fill="#6a6850"/><circle cx="354.8" cy="397.0" r="0.9" fill="#6a6850"/><circle cx="354.3" cy="374.1" r="0.9" fill="#6a6850"/><circle cx="358.0" cy="356.4" r="0.9" fill="#6a6850"/><circle cx="363.7" cy="354.3" r="0.9" fill="#6a6850"/><circle cx="368.2" cy="369.0" r="0.9" fill="#6a6850"/><ellipse cx="359.5" cy="383" rx="5.04" ry="14.219999999999999" fill="#c8c6a4" stroke="#3a3a28" stroke-width="0.7"/><path d="M251.2,340.8 L251.2,352.2 A20.5,4.3 0 0 0 292.2,352.2 L292.2,340.8 Z" fill="url(#cyl)" stroke="#3a3a28" stroke-width="0.8"/><ellipse cx="271.7" cy="340.8" rx="20.5" ry="4.3" fill="#c2bf96" stroke="#3a3a28" stroke-width="0.8"/><rect x="260.0" y="297.6" width="21.6" height="43.69999999999999" fill="url(#cyl)" stroke="#3a3a28" stroke-width="0.8"/><ellipse cx="270.8" cy="297.6" rx="10.8" ry="2.6" fill="#cac8a2" stroke="#3a3a28" stroke-width="0.8"/><ellipse cx="270.8" cy="297.6" rx="5" ry="1.3" fill="#8a8866"/><path d="M414,327.8 L414,339.7 A20,4.3 0 0 0 454,339.7 L454,327.8 Z" fill="url(#cyl)" stroke="#3a3a28" stroke-width="0.8"/><ellipse cx="434" cy="327.8" rx="20" ry="4.3" fill="#c2bf96" stroke="#3a3a28" stroke-width="0.8"/><rect x="422.7" y="282.3" width="21.6" height="46" fill="url(#cyl)" stroke="#3a3a28" stroke-width="0.8"/><ellipse cx="433.5" cy="282.3" rx="10.8" ry="2.6" fill="#cac8a2" stroke="#3a3a28" stroke-width="0.8"/><ellipse cx="433.5" cy="282.3" rx="5" ry="1.3" fill="#8a8866"/><rect x="214.8" y="352" width="12" height="6.5" rx="2.5" fill="#c2bf98" stroke="#3a3a28" stroke-width="0.7"/><rect x="216.3" y="346" width="9" height="7.5" fill="#cac8a4" stroke="#3a3a28" stroke-width="0.7"/><rect x="316" y="344" width="12" height="6.5" rx="2.5" fill="#c2bf98" stroke="#3a3a28" stroke-width="0.7"/><rect x="317.5" y="338" width="9" height="7.5" fill="#cac8a4" stroke="#3a3a28" stroke-width="0.7"/><rect x="377.2" y="339" width="12" height="6.5" rx="2.5" fill="#c2bf98" stroke="#3a3a28" stroke-width="0.7"/><rect x="378.7" y="333" width="9" height="7.5" fill="#cac8a4" stroke="#3a3a28" stroke-width="0.7"/><rect x="479" y="329" width="12" height="6.5" rx="2.5" fill="#c2bf98" stroke="#3a3a28" stroke-width="0.7"/><rect x="480.5" y="323" width="9" height="7.5" fill="#cac8a4" stroke="#3a3a28" stroke-width="0.7"/><rect x="537.8" y="380" width="7" height="22.2" fill="#8a88b8" stroke="#505078" stroke-width="0.6"/><path d="M537,349.2 L546,349.2 A6.5,17.3 0 0 1 546,383.8 L537,383.8 Z" fill="#7c7ab0" stroke="#3e3e6a" stroke-width="0.7"/><ellipse cx="537" cy="366.5" rx="6.6" ry="17.3" fill="#8f8dc2" stroke="#3e3e6a" stroke-width="0.7"/><path d="M531,358.4 L536,358.4 A3,9.2 0 0 1 536,376.8 L531,376.8 Z" fill="#7472aa" stroke="#3e3e6a" stroke-width="0.6"/><ellipse cx="531" cy="367.6" rx="4.2" ry="9.2" fill="#8482ba" stroke="#3e3e6a" stroke-width="0.6"/><ellipse cx="530" cy="367.6" rx="2.2" ry="5" fill="#6e6ca6" stroke="#3e3e6a" stroke-width="0.5"/><line x1="520.5" y1="367" x2="530" y2="367" stroke="#1414c0" stroke-width="3.6"/><line x1="221" y1="293.5" x2="221" y2="333" stroke="#5a8a44" stroke-width="3.6"/><polygon points="215.0,331.0 227.0,331.0 221.0,344.0" fill="#5a8a44" stroke="none" stroke-width="1" /><line x1="320.5" y1="337" x2="320.5" y2="318" stroke="#5a8a44" stroke-width="3.6"/><polygon points="314.0,321.0 327.0,321.0 320.5,312.5" fill="#5a8a44" stroke="none" stroke-width="1" /><path d="M320.5,313 L320.5,311 Q320.5,308 324,308 L332,308" fill="none" stroke="#1fae4c" stroke-width="5"/><path d="M367,308 L376,308 Q383,308 383,315" fill="none" stroke="#1fae4c" stroke-width="5"/><line x1="383.2" y1="314" x2="383.2" y2="321" stroke="#5a8a44" stroke-width="3.6"/><polygon points="377.2,319.0 389.2,319.0 383.2,330.5" fill="#5a8a44" stroke="none" stroke-width="1" /><rect x="330.4" y="298.3" width="37.8" height="21.7" rx="6" fill="#1fae4c" stroke="#178a3a" stroke-width="0.6"/><line x1="362.5" y1="299" x2="362.5" y2="319.5" stroke="#178a3a" stroke-width="0.6"/><line x1="484.8" y1="276" x2="484.8" y2="323" stroke="#5a8a44" stroke-width="3.6"/><line x1="495" y1="265.6" x2="532" y2="265.6" stroke="#5a8a44" stroke-width="3.3"/><polygon points="530.7,260.4 543.4,265.5 530.7,270.5" fill="#5a8a44" stroke="none" stroke-width="1" /><circle cx="484.8" cy="265.4" r="9.7" fill="#d8d8d8" stroke="#111" stroke-width="1.8"/><path d="M478,258.6 L491.6,272.2 M491.6,258.6 L478,272.2" stroke="#111" stroke-width="1.6"/><polygon points="711.5,292.2 776.6,327.2 763.5,375.5 700.3,343.4" fill="#b3b8c3" stroke="#3e4450" stroke-width="0.9" /><polygon points="776.6,327.2 780.0,330.2 767.0,378.0 763.5,375.5" fill="#46536e" stroke="none" stroke-width="1" /><polygon points="714.6,298.4 768.5,329.5 757.5,370.0 703.3,339.8" fill="url(#scr)" stroke="#4a5060" stroke-width="0.7" /><polygon points="656.4,361.3 655.9,368.3 720.0,406.3 759.0,382.9 758.5,376.4 720.0,397.8" fill="#c3c7cf" stroke="#7a7e88" stroke-width="0.6" /><polygon points="656.4,361.3 656.1,365.3 720.0,402.3 758.8,380.4 758.5,376.4 720.0,397.8" fill="#4f82c2" stroke="none" stroke-width="1" /><polygon points="694.9,339.9 758.5,376.4 720.0,397.8 656.4,361.3" fill="#5a739c" stroke="#2e4468" stroke-width="0.7" /><polygon points="695.2,345.0 701.1,348.4 695.2,351.6 689.3,348.2" fill="#f0f4fb" stroke="none" stroke-width="1" /><polygon points="703.2,349.6 709.1,353.0 703.2,356.2 697.3,352.8" fill="#f0f4fb" stroke="none" stroke-width="1" /><polygon points="711.2,354.2 717.1,357.6 711.2,360.8 705.3,357.4" fill="#f0f4fb" stroke="none" stroke-width="1" /><polygon points="719.2,358.8 725.1,362.2 719.2,365.4 713.3,362.0" fill="#f0f4fb" stroke="none" stroke-width="1" /><polygon points="727.2,363.4 733.1,366.8 727.2,370.0 721.3,366.6" fill="#f0f4fb" stroke="none" stroke-width="1" /><polygon points="735.2,368.0 741.1,371.4 735.2,374.6 729.3,371.2" fill="#f0f4fb" stroke="none" stroke-width="1" /><polygon points="743.2,372.6 749.1,376.0 743.2,379.2 737.3,375.8" fill="#f0f4fb" stroke="none" stroke-width="1" /><polygon points="687.1,349.5 693.0,352.9 687.1,356.1 681.2,352.7" fill="#f0f4fb" stroke="none" stroke-width="1" /><polygon points="695.1,354.1 701.0,357.5 695.1,360.7 689.2,357.3" fill="#f0f4fb" stroke="none" stroke-width="1" /><polygon points="703.1,358.7 709.0,362.1 703.1,365.3 697.2,361.9" fill="#f0f4fb" stroke="none" stroke-width="1" /><polygon points="711.1,363.3 717.0,366.7 711.1,369.9 705.2,366.5" fill="#f0f4fb" stroke="none" stroke-width="1" /><polygon points="719.1,367.9 725.0,371.3 719.1,374.5 713.2,371.1" fill="#f0f4fb" stroke="none" stroke-width="1" /><polygon points="727.1,372.5 733.0,375.9 727.1,379.1 721.2,375.7" fill="#f0f4fb" stroke="none" stroke-width="1" /><polygon points="735.1,377.1 741.0,380.5 735.1,383.7 729.2,380.3" fill="#f0f4fb" stroke="none" stroke-width="1" /><polygon points="679.0,354.0 684.9,357.4 679.0,360.6 673.1,357.2" fill="#f0f4fb" stroke="none" stroke-width="1" /><polygon points="687.0,358.6 692.9,362.0 687.0,365.2 681.1,361.8" fill="#f0f4fb" stroke="none" stroke-width="1" /><polygon points="695.0,363.2 700.9,366.6 695.0,369.8 689.1,366.4" fill="#f0f4fb" stroke="none" stroke-width="1" /><polygon points="703.0,367.8 708.9,371.2 703.0,374.4 697.1,371.0" fill="#f0f4fb" stroke="none" stroke-width="1" /><polygon points="711.0,372.4 716.9,375.8 711.0,379.0 705.1,375.6" fill="#f0f4fb" stroke="none" stroke-width="1" /><polygon points="719.0,377.0 724.9,380.4 719.0,383.6 713.1,380.2" fill="#f0f4fb" stroke="none" stroke-width="1" /><polygon points="727.0,381.6 732.9,385.0 727.0,388.2 721.1,384.8" fill="#f0f4fb" stroke="none" stroke-width="1" /><polygon points="670.9,358.5 676.8,361.9 670.9,365.1 665.0,361.7" fill="#f0f4fb" stroke="none" stroke-width="1" /><polygon points="678.9,363.1 684.8,366.5 678.9,369.7 673.0,366.3" fill="#f0f4fb" stroke="none" stroke-width="1" /><polygon points="686.6,367.5 709.0,380.4 703.2,383.7 680.8,370.8" fill="#f0f4fb" stroke="none" stroke-width="1" /><polygon points="710.9,381.5 716.8,384.9 710.9,388.1 705.0,384.7" fill="#f0f4fb" stroke="none" stroke-width="1" /><polygon points="718.9,386.1 724.8,389.5 718.9,392.7 713.0,389.3" fill="#f0f4fb" stroke="none" stroke-width="1" /><text transform="translate(146.28,162.7) scale(0.9098,1)" font-family='"Liberation Sans", sans-serif' font-size="22.29" fill="#000">LDC</text><text transform="translate(295.33,144.1) scale(0.9683,1)" font-family='"Liberation Serif", serif' font-size="25.6" fill="#061206">LIA</text><text transform="translate(346.89,144.1) scale(0.7556,1)" font-family='"Liberation Serif", serif' font-size="25.6" fill="#061206">1</text><text transform="translate(471.49,144.2) scale(1.0122,1)" font-family='"Liberation Serif", serif' font-size="25.6" fill="#061206">LIA</text><text transform="translate(522.45,144.2) scale(1.05,1)" font-family='"Liberation Serif", serif' font-size="25.6" fill="#061206">2</text><text transform="translate(666.18,115.6) scale(1.0218,1)" font-family='"Liberation Serif", serif' font-size="26.21" fill="#000">DAQ</text><text transform="translate(168.59,318.1) scale(1.013,1)" font-family='"Liberation Serif", serif' font-size="26" fill="#000">Inlet</text><text transform="translate(316.94,293.4) scale(1.0556,1)" font-family='"Liberation Serif", serif' font-size="25.22" fill="#000">Filter</text><text transform="translate(493.26,257.6) scale(1.035,1)" font-family='"Liberation Serif", serif' font-size="24.64" fill="#000">Outlet</text><text transform="translate(491.2,294.3) scale(1.0392,1)" font-family='"Liberation Serif", serif' font-size="23.85" fill="#000">T,RH</text><text transform="translate(63.48,361.9) scale(1.0193,1)" font-family='"Liberation Serif", serif' font-size="25.94" fill="#000">Chopper</text><text transform="translate(45.47,403.2) scale(0.916,1)" font-family='"Liberation Sans", sans-serif' font-size="22.03" fill="#000">LD</text><text transform="translate(238.85,403.4) scale(1.0464,1)" font-family='"Liberation Serif", serif' font-size="24.5" fill="#000">PA</text><text transform="translate(277.06,403.4) scale(1.0424,1)" font-family='"Liberation Serif", serif' font-size="24.5" fill="#000">cell</text><text transform="translate(323.52,403.4) scale(0.6889,1)" font-family='"Liberation Serif", serif' font-size="24.5" fill="#000">1</text><text transform="translate(400.55,393.4) scale(1.0517,1)" font-family='"Liberation Serif", serif' font-size="25.6" fill="#000">PA</text><text transform="translate(440.78,393.4) scale(1.02,1)" font-family='"Liberation Serif", serif' font-size="25.6" fill="#000">cell</text><text transform="translate(485.4,393.4) scale(1.1,1)" font-family='"Liberation Serif", serif' font-size="25.6" fill="#000">2</text><text transform="translate(555.36,370.4) scale(1.0371,1)" font-family='"Liberation Serif", serif' font-size="24.92" fill="#000">Power</text><text transform="translate(559.58,401.5) scale(1.0214,1)" font-family='"Liberation Serif", serif' font-size="25.18" fill="#000">meter</text><text transform="translate(678.91,422.5) scale(0.99,1)" font-family='"Liberation Serif", serif' font-size="26.46" fill="#000">PC</text></svg></body></html>
